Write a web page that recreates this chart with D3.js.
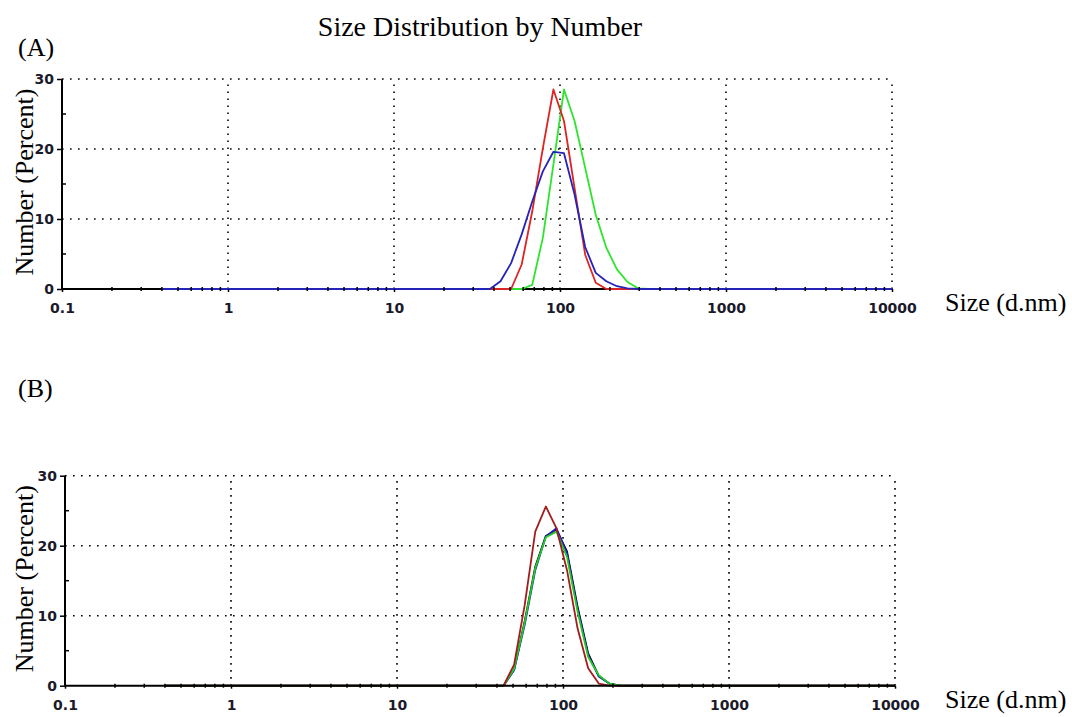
<!DOCTYPE html>
<html>
<head>
<meta charset="utf-8">
<script src="https://cdn.jsdelivr.net/npm/d3@7"></script>
<style>
body { margin: 0; background: #fff; }
.serif { font-family: "Liberation Serif", "Times New Roman", serif; font-size: 26px; fill: #000; }
.title { font-size: 28px; }
.tick text { font-family: "DejaVu Sans", Arial, sans-serif; font-weight: bold; font-size: 14px; fill: #1a1a2a; }
</style>
</head>
<body>
<svg id="chart" width="1072" height="717"></svg>
<script>
// particle size bins (d.nm) used by both panels
var sizes = [0.4, 32.67, 37.84, 43.82, 50.75, 58.77, 68.06, 78.82, 91.28, 105.7,
             122.4, 141.8, 164.2, 190.1, 220.2, 255.0, 295.3, 342.0, 10000];

// panel (A)
var greenA = [0, 0, 0, 0, 0, 0, 0.6, 7.3, 17.8, 28.5, 24.0, 17.3, 10.6, 5.9, 2.8, 1.0, 0.1, 0, 0];
var redA   = [0, 0, 0, 0, 0, 3.5, 11.1, 20.1, 28.5, 24.0, 14.4, 4.9, 0.9, 0, 0, 0, 0, 0, 0];
var blueA  = [0, 0, 0, 1.1, 3.7, 7.8, 12.5, 16.8, 19.6, 19.4, 13.5, 6.0, 2.3, 1.1, 0.4, 0.1, 0, 0, 0];

// panel (B)
var blackB = [0, 0, 0, 0, 2.3, 9.2, 17.0, 21.4, 22.3, 19.2, 11.3, 4.6, 1.4, 0.3, 0, 0, 0, 0, 0];
var blueB  = [0, 0, 0, 0, 2.2, 8.7, 16.5, 21.3, 22.5, 18.9, 11.0, 4.4, 1.3, 0.3, 0, 0, 0, 0, 0];
var greenB = [0, 0, 0, 0, 2.4, 9.0, 16.8, 21.2, 22.0, 18.4, 10.6, 4.1, 1.5, 0.3, 0, 0, 0, 0, 0];
var redB   = [0, 0, 0, 0, 3.0, 11.5, 22.0, 25.6, 22.5, 16.5, 8.2, 2.5, 0.3, 0, 0, 0, 0, 0, 0];

var xTicks = [0.1, 1, 10, 100, 1000, 10000];
var yTicks = [0, 10, 20, 30];
var yMinor = [5, 15, 25];

var svg = d3.select("#chart");

svg.append("text").attr("class", "serif title")
    .attr("x", 480).attr("y", 36).attr("text-anchor", "middle")
    .text("Size Distribution by Number");

function drawPanel(opt) {
    var x = d3.scaleLog().domain([0.1, 10000]).range([opt.left, opt.left + 830]);
    var y = d3.scaleLinear().domain([0, 30]).range([opt.bottom, opt.bottom - 210]);
    var g = svg.append("g");

    svg.append("text").attr("class", "serif")
        .attr("x", 18).attr("y", opt.labelY).text(opt.label);

    // dotted grid
    g.selectAll(".hgrid").data(yTicks.slice(1)).enter().append("line")
        .attr("x1", x(0.1)).attr("x2", x(10000))
        .attr("y1", function(d) { return y(d); }).attr("y2", function(d) { return y(d); })
        .attr("stroke", "#000").attr("stroke-width", 1.6).attr("stroke-dasharray", "1.6,6.4");
    g.selectAll(".vgrid").data(xTicks.slice(1)).enter().append("line")
        .attr("x1", function(d) { return x(d); }).attr("x2", function(d) { return x(d); })
        .attr("y1", y(0)).attr("y2", y(30))
        .attr("stroke", "#000").attr("stroke-width", 1.6).attr("stroke-dasharray", "1.6,5.4");

    // data lines
    var line = d3.line()
        .x(function(d, i) { return x(sizes[i]); })
        .y(function(d) { return y(d); });
    opt.series.forEach(function(s) {
        g.append("path").datum(s.values)
            .attr("d", line).attr("fill", "none")
            .attr("stroke", s.color).attr("stroke-width", 1.8)
            .attr("stroke-linejoin", "round");
    });

    // axes
    var xAxis = d3.axisBottom(x).tickValues(xTicks)
        .tickFormat(function(d) { return String(d); })
        .tickSize(3).tickPadding(11);
    var ax = g.append("g").attr("transform", "translate(0," + y(0) + ")").call(xAxis);
    ax.select(".domain").remove();
    ax.selectAll(".tick line").attr("stroke", "#000").attr("stroke-width", 1.5);

    var minor = x.ticks().filter(function(d) { return xTicks.indexOf(d) < 0; });
    g.selectAll(".xminor").data(minor).enter().append("line")
        .attr("x1", function(d) { return x(d); }).attr("x2", function(d) { return x(d); })
        .attr("y1", y(0) - 2).attr("y2", y(0) + 2)
        .attr("stroke", "#000").attr("stroke-width", 1.5);

    var yAxis = d3.axisLeft(y).tickValues(yTicks).tickSize(5).tickPadding(3);
    var ay = g.append("g").attr("transform", "translate(" + opt.left + ",0)").call(yAxis);
    ay.select(".domain").remove();
    ay.selectAll(".tick line").attr("stroke", "#000").attr("stroke-width", 1.5);
    g.selectAll(".yminor").data(yMinor).enter().append("line")
        .attr("x1", opt.left).attr("x2", opt.left + 4)
        .attr("y1", function(d) { return y(d); }).attr("y2", function(d) { return y(d); })
        .attr("stroke", "#000").attr("stroke-width", 1.5);

    g.append("line").attr("x1", opt.left).attr("x2", opt.left)
        .attr("y1", y(0)).attr("y2", y(30)).attr("stroke", "#000").attr("stroke-width", 2);
    if (opt.axisOnTop) {
        g.append("line").attr("x1", x(0.1)).attr("x2", x(10000))
            .attr("y1", y(0)).attr("y2", y(0)).attr("stroke", "#000").attr("stroke-width", 2);
    } else {
        g.insert("line", "path").attr("x1", x(0.1)).attr("x2", x(10000))
            .attr("y1", y(0)).attr("y2", y(0)).attr("stroke", "#000").attr("stroke-width", 2);
    }

    // axis titles
    svg.append("text").attr("class", "serif")
        .attr("transform", "translate(33," + (y(15) - 2) + ") rotate(-90)")
        .attr("text-anchor", "middle").text("Number (Percent)");
    svg.append("text").attr("class", "serif")
        .attr("x", 945).attr("y", y(0) + opt.sizeDy).text("Size (d.nm)");
}

drawPanel({
    left: 62, bottom: 289, label: "(A)", labelY: 56, sizeDy: 22, axisOnTop: false,
    series: [
        {values: greenA, color: "#2ee52e"},
        {values: redA, color: "#dd2424"},
        {values: blueA, color: "#2424b8"}
    ]
});

drawPanel({
    left: 65, bottom: 685.7, label: "(B)", labelY: 397, sizeDy: 22, axisOnTop: true,
    series: [
        {values: blackB, color: "#000000"},
        {values: blueB, color: "#2020c8"},
        {values: greenB, color: "#22cc22"},
        {values: redB, color: "#a31c1c"}
    ]
});
</script>
</body>
</html>
